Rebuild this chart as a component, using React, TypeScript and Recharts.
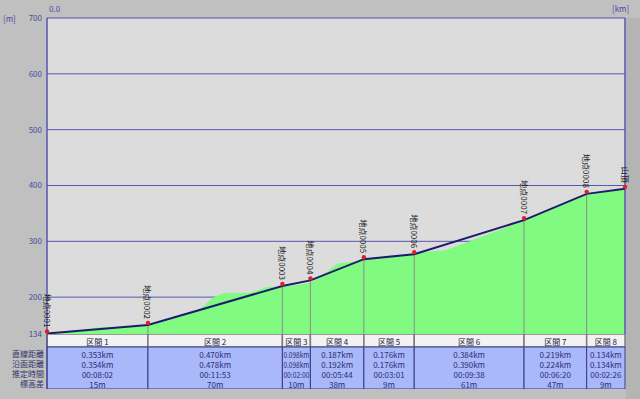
import React from 'react';
import {
  ComposedChart, Area, Line, XAxis, YAxis, CartesianGrid, ReferenceLine, ReferenceArea, LabelList,
} from 'recharts';

// section table values
const sections = ['区間 1', '区間 2', '区間 3', '区間 4', '区間 5', '区間 6', '区間 7', '区間 8'];
const straightDist = [0.353, 0.470, 0.098, 0.187, 0.176, 0.384, 0.219, 0.134];
const surfaceDist = [0.354, 0.478, 0.098, 0.192, 0.176, 0.390, 0.224, 0.134];
const estTime = ['00:08:02', '00:11:53', '00:02:00', '00:05:44', '00:03:01', '00:09:38', '00:06:20', '00:02:26'];
const elevDiff = [15, 70, 10, 38, 9, 61, 47, 9];
const rowLabels = ['直線距離', '沿面距離', '推定時間', '標高差'];

// route points
const pointNames = ['地点0001', '地点0002', '地点0003', '地点0004', '地点0005', '地点0006', '地点0007', '地点0008', '山頂'];
const pointElev = [135, 150, 220, 230, 268, 277, 338, 385, 394];

// terrain profile (km, m)
const terrainKm = [0, 0.185, 0.353, 0.448, 0.535, 0.577, 0.612, 0.71, 0.769, 0.823, 0.921, 0.972, 1.014, 1.108, 1.284, 1.392, 1.462, 1.668, 1.887, 2.021];
const terrainElev = [134, 146, 148, 165, 178, 198, 207, 208, 218, 218, 226, 243, 260, 266, 279, 284, 297, 337, 384, 394];

const yTicks = [134, 200, 300, 400, 500, 600, 700];
const rowTicks = [35, 25, 15, 5];

const FONT = '"Noto Sans CJK JP", "DejaVu Sans", sans-serif';
const BLUE = '#5656b4';

const cum: number[] = [0];
straightDist.forEach((d) => cum.push(+(cum[cum.length - 1] + d).toFixed(3)));
const total = cum[cum.length - 1];

// merge terrain + route into one table keyed by km
const rows: Record<string, any> = {};
terrainKm.forEach((k, i) => {
  const key = k.toFixed(3);
  rows[key] = { ...(rows[key] || { km: k }), terrain: terrainElev[i] };
});
cum.forEach((k, i) => {
  const key = k.toFixed(3);
  rows[key] = { ...(rows[key] || { km: k }), route: pointElev[i], name: pointNames[i] };
});
const chartData = Object.values(rows).sort((a: any, b: any) => a.km - b.km);

// the table chart needs a (hidden) series so its axes get scales
const tableData = [{ km: 0, v: 0 }, { km: total, v: 55 }];

const PointLabel = (p: any) => {
  if (!p.value || p.x == null || p.y == null) return null;
  const x = p.x;
  const y = p.y - 6;
  return (
    <text x={x} y={y} transform={`rotate(90, ${x}, ${y})`} textAnchor="end" dominantBaseline="central"
      fontSize={8} fill="#202020" fontFamily={FONT}>
      {p.value}
    </text>
  );
};

const RouteDot = (p: any) => {
  if (p.cy == null || p.payload.route == null) return <g key={`d${p.index}`} />;
  return <circle key={`d${p.index}`} cx={p.cx} cy={p.cy - 2} r={2.2} fill="#e02020" />;
};

const HeaderText = (p: any) => {
  const vb = p.viewBox;
  if (!vb) return null;
  return (
    <text x={vb.x + vb.width / 2} y={vb.y + vb.height / 2 + 1} textAnchor="middle" dominantBaseline="central"
      fontSize={8} fill="#202040" fontFamily={FONT}>{p.text}</text>
  );
};

const CellText = (p: any) => {
  const vb = p.viewBox;
  if (!vb) return null;
  const narrow = vb.width < 36;
  return (
    <g>
      {p.lines.map((t: string, i: number) => (
        <text key={i} x={vb.x + vb.width / 2} y={vb.y + 7 + i * 10} textAnchor="middle" dominantBaseline="central"
          fontSize={8} fill="#2c2c78" fontFamily={FONT}
          {...(narrow && t.length > 4 ? { textLength: vb.width - 2, lengthAdjust: 'spacingAndGlyphs' } : {})}>{t}</text>
      ))}
    </g>
  );
};

export default function App() {
  return (
    <div style={{ position: 'relative', width: 640, height: 399, background: '#c0c0c0', fontFamily: FONT, overflow: 'hidden' }}>
      <style>{'body{margin:0}'}</style>
      <div style={{ position: 'absolute', left: 626, top: 18, width: 14, height: 381, background: '#b4b4b4' }} />
      <span style={{ position: 'absolute', left: 3, top: 13, fontSize: 8, color: '#4848a0' }}>[m]</span>
      <span style={{ position: 'absolute', left: 49, top: 3, fontSize: 8, color: '#4848a0' }}>0.0</span>
      <span style={{ position: 'absolute', left: 612, top: 3, fontSize: 8, color: '#4848a0' }}>[km]</span>

      <div style={{ position: 'absolute', left: 0, top: 0 }}>
        <ComposedChart width={640} height={345} data={chartData} margin={{ top: 18, right: 15, bottom: 11, left: 0 }}>
          <CartesianGrid vertical={false} horizontalValues={[200, 300, 400, 500, 600, 700]} stroke={BLUE} fill="#dcdcdc" fillOpacity={1} strokeDasharray="" />
          <XAxis dataKey="km" type="number" domain={[0, total]} hide />
          <YAxis type="number" domain={[134, 700]} ticks={yTicks} width={47} tickLine={false} tickSize={0} tickMargin={5}
            axisLine={{ stroke: BLUE, strokeWidth: 1.5 }} interval={0}
            tick={{ fontSize: 8, fill: '#4848a0', fontFamily: FONT }} />
          <Area dataKey="terrain" type="linear" fill="#80fa80" fillOpacity={1} stroke="none" connectNulls isAnimationActive={false} />
          {cum.slice(1, -1).map((k, i) => (
            <ReferenceLine key={k} segment={[{ x: k, y: 134 }, { x: k, y: pointElev[i + 1] }]} stroke="#8c8c8c" />
          ))}
          <ReferenceLine x={total} stroke={BLUE} strokeWidth={1.5} />
          <Line dataKey="route" type="linear" stroke="#1c1c6c" strokeWidth={2} connectNulls dot={RouteDot} activeDot={false} isAnimationActive={false}>
            <LabelList dataKey="name" content={PointLabel} />
          </Line>
        </ComposedChart>
      </div>

      <div style={{ position: 'absolute', left: 0, top: 334 }}>
        <ComposedChart width={640} height={55} data={tableData} margin={{ top: 0, right: 15, bottom: 0, left: 0 }}>
          <XAxis dataKey="km" type="number" domain={[0, total]} hide />
          <YAxis type="number" dataKey="v" domain={[0, 55]} ticks={rowTicks} width={47} interval={0} tickLine={false} tickSize={0} tickMargin={3}
            axisLine={{ stroke: '#3a3a8a' }}
            tickFormatter={(v: number) => rowLabels[rowTicks.indexOf(Number(v))] || ''}
            tick={{ fontSize: 8, fill: '#303068', fontFamily: FONT }} />
          <Line dataKey="v" stroke="none" dot={false} activeDot={false} isAnimationActive={false} />
          {sections.map((s, i) => (
            <ReferenceArea key={`h${i}`} x1={cum[i]} x2={cum[i + 1]} y1={42} y2={55} fill="#f2f2f2" fillOpacity={1}
              stroke="#7c7c7c" strokeWidth={1.5} ifOverflow="visible" label={<HeaderText text={s} />} />
          ))}
          {sections.map((s, i) => (
            <ReferenceArea key={`c${i}`} x1={cum[i]} x2={cum[i + 1]} y1={0} y2={42} fill="#a8b8f8" fillOpacity={1}
              stroke="#3a3a8a" strokeWidth={1} ifOverflow="visible"
              label={<CellText lines={[
                `${straightDist[i].toFixed(3)}km`,
                `${surfaceDist[i].toFixed(3)}km`,
                estTime[i],
                `${elevDiff[i]}m`,
              ]} />} />
          ))}
        </ComposedChart>
      </div>
    </div>
  );
}
